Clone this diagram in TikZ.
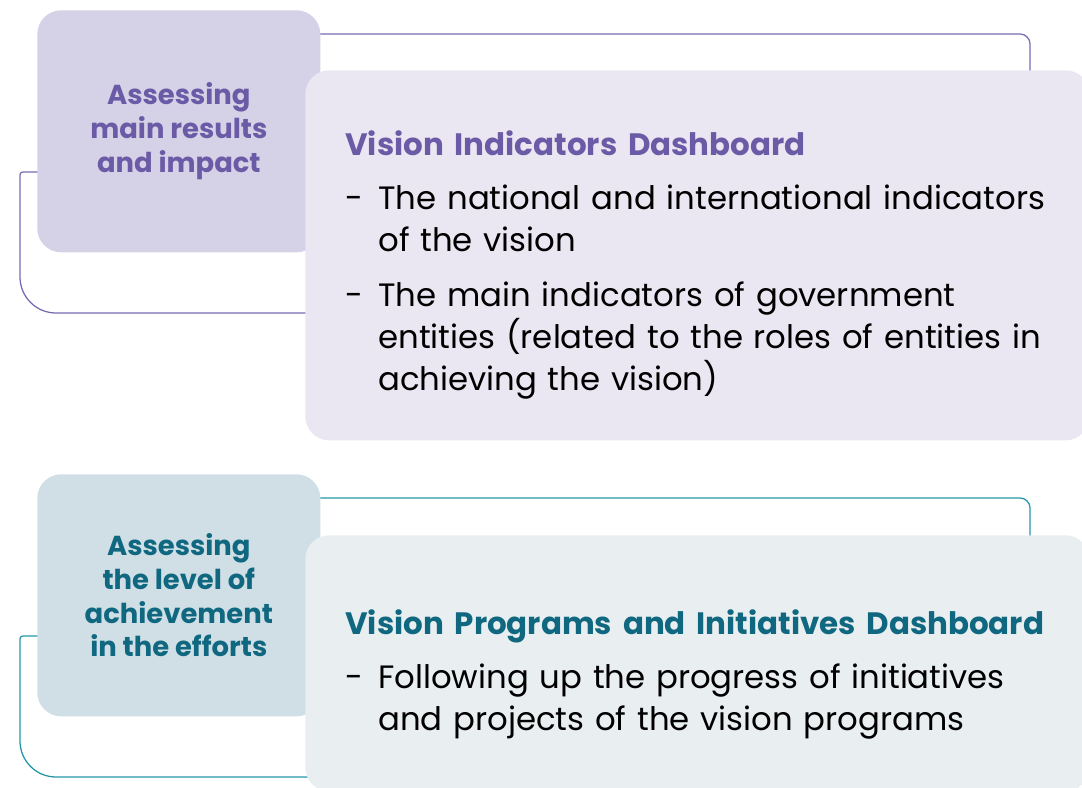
\documentclass[tikz,border=0pt]{standalone}
\usepackage{fontspec}
\setmainfont{Poppins}
\usetikzlibrary{positioning}
\definecolor{dashPurple}{HTML}{6B5BA6}
\definecolor{dashPurpleLine}{HTML}{7A6AB3}
\definecolor{dashPurpleBox}{HTML}{D5D1E6}
\definecolor{dashPurplePanel}{HTML}{EAE7F2}
\definecolor{dashTeal}{HTML}{0F6880}
\definecolor{dashTealLine}{HTML}{2596A8}
\definecolor{dashTealBox}{HTML}{D0DFE6}
\definecolor{dashTealPanel}{HTML}{E9EEF1}

\begin{document}
\begin{tikzpicture}[x=0.025cm, y=-0.025cm,
    aimbox/.style={rectangle, rounded corners=0.6cm, anchor=north west,
                 minimum width=7.075cm, minimum height=6.05cm, inner sep=0pt,
                 align=center, font=\fontsize{19.5}{24}\selectfont\bfseries},
    panel/.style={rectangle, rounded corners=0.6cm, anchor=north west,
                 minimum width=19.6cm, inner sep=0pt},
    paneltext/.style={anchor=north west, inner sep=0pt, align=left,
                 text width=17.6cm, font=\fontsize{23}{29.9}\selectfont},
    frame/.style={line width=0.9pt},
  ]
    \useasboundingbox (0,0) rectangle (1082,787);

    % first group
    \draw[frame, dashPurpleLine, rounded corners=0.25cm]
      (300,34) -- (1030,34) -- (1030,90);
    \draw[frame, dashPurpleLine, rounded corners=2pt]
      (40,172) -- (20,172) -- (20,240) [rounded corners=0.9cm] -- (20,313) -- (330,313);
    \node[aimbox, fill=dashPurpleBox, text=dashPurple] (aim1) at (37,10)
      {Assessing\\main results\\and impact};
    \node[panel, fill=dashPurplePanel, minimum height=9.25cm] (dash1) at (305,70) {};
    \node[paneltext] (dash1text) at ([xshift=1cm, yshift=-1.5cm]dash1.north west)
      {{\color{dashPurple}\fontsize{22}{29.9}\selectfont\bfseries Vision Indicators Dashboard}\\[9pt]
       \makebox[0.825cm][l]{-}The national and international indicators\\
       \hspace*{0.825cm}of the vision\\[9pt]
       \makebox[0.825cm][l]{-}The main indicators of government\\
       \hspace*{0.825cm}entities (related to the roles of entities in\\
       \hspace*{0.825cm}achieving the vision)};

    % second group
    \draw[frame, dashTealLine, rounded corners=0.25cm]
      (300,498) -- (1030,498) -- (1030,555);
    \draw[frame, dashTealLine, rounded corners=2pt]
      (40,636) -- (20,636) -- (20,700) [rounded corners=0.9cm] -- (20,777) -- (330,777);
    \node[aimbox, fill=dashTealBox, text=dashTeal] (aim2) at (37,474)
      {Assessing\\the level of\\achievement\\in the efforts};
    \node[panel, fill=dashTealPanel, minimum height=6.4cm] (dash2) at (305,535) {};
    \node[paneltext] (dash2text) at ([xshift=1cm, yshift=-1.85cm]dash2.north west)
      {{\color{dashTeal}\fontsize{22}{29.9}\selectfont\bfseries Vision Programs and Initiatives Dashboard}\\[9pt]
       \makebox[0.825cm][l]{-}Following up the progress of initiatives\\
       \hspace*{0.825cm}and projects of the vision programs};
  \end{tikzpicture}
\end{document}
